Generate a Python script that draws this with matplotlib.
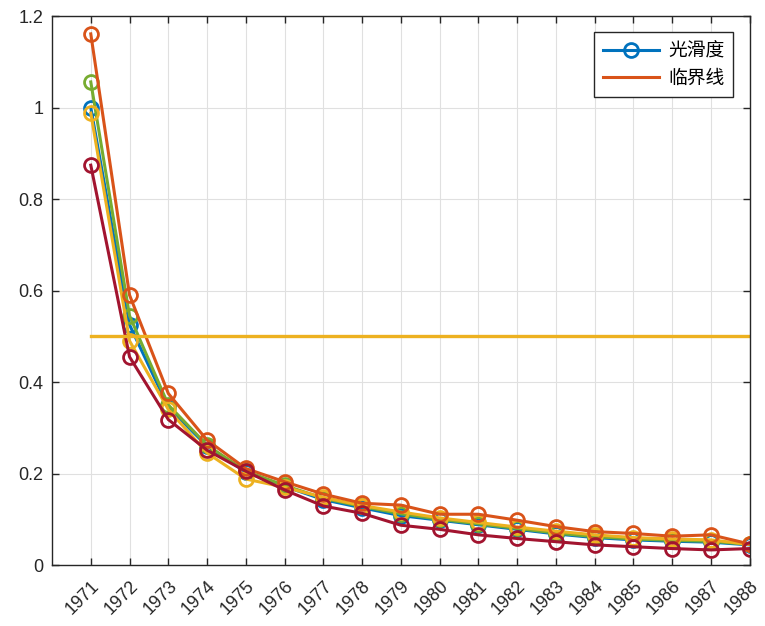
import matplotlib
matplotlib.use("Agg")
import matplotlib.pyplot as plt
from matplotlib.lines import Line2D
from matplotlib.ticker import FormatStrFormatter

plt.rcParams['font.family'] = ['Liberation Sans', 'Noto Sans CJK SC', 'DejaVu Sans']

# data
years = list(range(1971, 1989))
s_blue = [1.000, 0.525, 0.345, 0.260, 0.203, 0.172, 0.143, 0.125, 0.108, 0.098,
          0.088, 0.078, 0.068, 0.060, 0.055, 0.052, 0.050, 0.044]
s_green = [1.056, 0.545, 0.350, 0.262, 0.205, 0.174, 0.146, 0.128, 0.112, 0.100,
           0.090, 0.080, 0.070, 0.062, 0.057, 0.054, 0.052, 0.045]
s_yellow = [0.988, 0.490, 0.340, 0.245, 0.188, 0.170, 0.148, 0.130, 0.116, 0.103,
            0.093, 0.083, 0.074, 0.066, 0.060, 0.057, 0.055, 0.045]
s_orange = [1.161, 0.590, 0.375, 0.273, 0.211, 0.182, 0.155, 0.135, 0.131, 0.111,
            0.111, 0.098, 0.084, 0.073, 0.069, 0.063, 0.066, 0.046]
s_darkred = [0.874, 0.455, 0.318, 0.251, 0.205, 0.164, 0.129, 0.113, 0.087, 0.078,
             0.066, 0.058, 0.051, 0.044, 0.040, 0.036, 0.033, 0.036]
threshold = [0.5] * len(years)
legend_labels = ['光滑度', '临界线']

C_BLUE = '#0072BD'
C_ORANGE = '#D95319'
C_YELLOW = '#EDB120'
C_GREEN = '#77AC30'
C_DARKRED = '#A2142F'
AX_COLOR = '#262626'

fig = plt.figure(figsize=(7.65, 6.26), dpi=100)
ax = fig.add_axes([0.068, 0.0974, 0.912, 0.877])

style = dict(marker='o', markersize=10, markerfacecolor='none',
             markeredgewidth=2, linewidth=2.2)
h_blue, = ax.plot(years, s_blue, color=C_BLUE, **style)
ax.plot(years, s_green, color=C_GREEN, **style)
ax.plot(years, s_yellow, color=C_YELLOW, **style)
ax.plot(years, s_orange, color=C_ORANGE, **style)
ax.plot(years, s_darkred, color=C_DARKRED, **style)
ax.plot(years, threshold, color=C_YELLOW, linewidth=2.4)

ax.set_xlim(1970, 1988)
ax.set_ylim(0, 1.2)
ax.set_xticks(years)
ax.set_xticklabels([str(y) for y in years], rotation=45, fontsize=13,
                   color=AX_COLOR, ha='right', va='top',
                   rotation_mode='anchor')
ax.set_yticks([0, 0.2, 0.4, 0.6, 0.8, 1.0, 1.2])
ax.yaxis.set_major_formatter(FormatStrFormatter('%g'))
ax.tick_params(axis='y', labelsize=13, colors=AX_COLOR, pad=6)
ax.tick_params(direction='in', top=True, right=True, length=5, width=1,
               color=AX_COLOR)
ax.tick_params(axis='x', pad=9)

ax.grid(True, color='#E0E0E0', linewidth=0.8)
ax.set_axisbelow(True)
for sp in ax.spines.values():
    sp.set_color(AX_COLOR)
    sp.set_linewidth(1)

proxy_orange = Line2D([], [], color=C_ORANGE, linewidth=2.2)
leg = ax.legend([h_blue, proxy_orange], legend_labels, loc='upper right',
                bbox_to_anchor=(0.976, 0.970), fancybox=False, framealpha=1,
                edgecolor=AX_COLOR, handlelength=3.0, handletextpad=0.5,
                borderpad=0.45, labelspacing=0.3, borderaxespad=0,
                prop={'family': ['Noto Sans CJK SC', 'DejaVu Sans'], 'size': 13.5})
leg.get_frame().set_linewidth(1)

fig.savefig('out.png', dpi=100)
